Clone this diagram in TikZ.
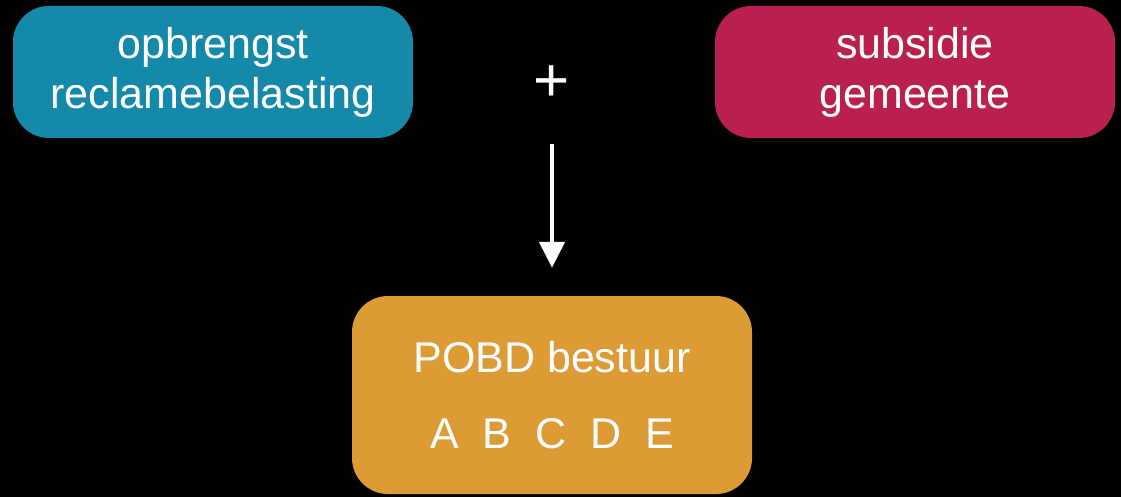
\documentclass[tikz,border=0pt]{standalone}
\usepackage{fontspec}
\setmainfont{Liberation Sans}
\usetikzlibrary{arrows.meta}
\usetikzlibrary{positioning}

\definecolor{bluebox}{RGB}{21,137,170}
\definecolor{redbox}{RGB}{185,32,78}
\definecolor{orangebox}{RGB}{221,155,53}

\begin{document}
\begin{tikzpicture}[x=1pt,y=-1pt,
    box/.style={rounded corners=36pt, text=white, align=center,
      minimum width=400pt, inner sep=0pt,
      font=\fontsize{43}{50}\selectfont},
    flow/.style={draw=white, line width=4.7pt,
      -{Triangle[width=25pt,length=26pt]}}]
    \fill[black] (0,0) rectangle (1121,497);

    \node[box, fill=bluebox, minimum height=132pt] (opbrengst) at (213,72)
      {opbrengst\\reclamebelasting};
    \node[box, fill=redbox, minimum height=132pt] (subsidie) at (915,72)
      {subsidie\\gemeente};
    \node[text=white, font=\fontsize{62}{62}\selectfont] (plus) at (552,84) {+};

    \node[box, fill=orangebox, minimum height=198pt] (pobd) at (552,395)
      {POBD bestuur\\[26pt]A~~B~~C~~D~~E};

    \draw[flow, shorten <=60pt, shorten >=28pt] (plus.center) -- (pobd.north);
  \end{tikzpicture}
\end{document}
